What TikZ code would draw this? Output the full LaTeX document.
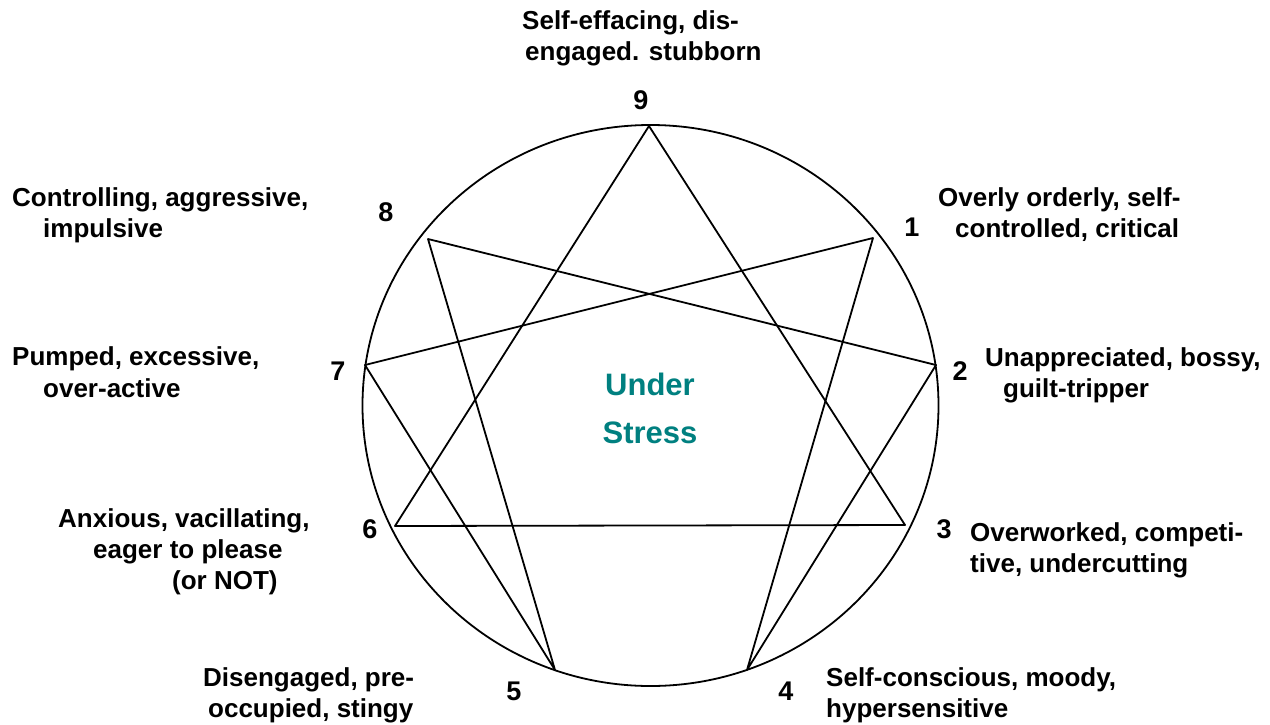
\documentclass[tikz,border=0pt]{standalone}
\usepackage{fontspec}
\setmainfont{Liberation Sans}
\begin{document}
\begin{tikzpicture}[x=1pt,y=-1pt,
  lbl/.style={anchor=base west,inner sep=0pt,font=\bfseries\fontsize{26}{31}\selectfont},
  num/.style={anchor=base,inner sep=0pt,font=\bfseries\fontsize{27}{31}\selectfont},
  ctr/.style={anchor=base,inner sep=0pt,text=stressteal,font=\bfseries\fontsize{31}{36}\selectfont},
  edge/.style={line width=1.8pt,line join=round}]
\definecolor{stressteal}{RGB}{0,128,128}
\useasboundingbox (0,0) rectangle (1270,724);
\fill[white] (0,0) rectangle (1270,724);
% circle
\draw[edge] (650.5,405.5) ellipse [x radius=288, y radius=280.5];
% points
\coordinate (p9) at (649,126);
\coordinate (p8) at (428,239);
\coordinate (p1) at (873,238);
\coordinate (p7) at (365,365);
\coordinate (p2) at (936,365);
\coordinate (p6) at (395,526);
\coordinate (p3) at (905,525);
\coordinate (p5) at (555,670);
\coordinate (p4) at (747,670);
% triangle
\draw[edge] (p9) -- (p3) -- (p6) -- cycle;
% hexad
\draw[edge] (p1) -- (p4) -- (p2) -- (p8) -- (p5) -- (p7) -- cycle;
% numbers
\node[num] (n9) at (641,109) {9};
\node[num] (n8) at (386,221) {8};
\node[num] (n1) at (912,236) {1};
\node[num] (n7) at (338,380) {7};
\node[num] (n2) at (960,380) {2};
\node[num] (n6) at (370,538) {6};
\node[num] (n3) at (944,538) {3};
\node[num] (n5) at (514,700) {5};
\node[num] (n4) at (786,700) {4};
% labels
\node[lbl] (t9a) at (522,29) {Self-effacing, dis-};
\node[lbl] (t9b) at (525,60) {engaged. stubborn};
\node[lbl] (t8a) at (12,206) {Controlling, aggressive,};
\node[lbl] (t8b) at (43,237) {impulsive};
\node[lbl] (t1a) at (938,206) {Overly orderly, self-};
\node[lbl] (t1b) at (955,237) {controlled, critical};
\node[lbl] (t7a) at (12,365) {Pumped, excessive,};
\node[lbl] (t7b) at (43,397) {over-active};
\node[lbl] (t2a) at (985,366) {Unappreciated, bossy,};
\node[lbl] (t2b) at (1003,397) {guilt-tripper};
\node[lbl] (t6a) at (58,527) {Anxious, vacillating,};
\node[lbl] (t6b) at (93,558) {eager to please};
\node[lbl] (t6c) at (172,589) {(or NOT)};
\node[lbl] (t3a) at (970,541) {Overworked, competi-};
\node[lbl] (t3b) at (970,572) {tive, undercutting};
\node[lbl] (t5a) at (203,686) {Disengaged, pre-};
\node[lbl] (t5b) at (208,717) {occupied, stingy};
\node[lbl] (t4a) at (826,686) {Self-conscious, moody,};
\node[lbl] (t4b) at (826,717) {hypersensitive};
% center
\node[ctr] (u1) at (650,395) {Under};
\node[ctr] (u2) at (650,443) {Stress};
\end{tikzpicture}
\end{document}
